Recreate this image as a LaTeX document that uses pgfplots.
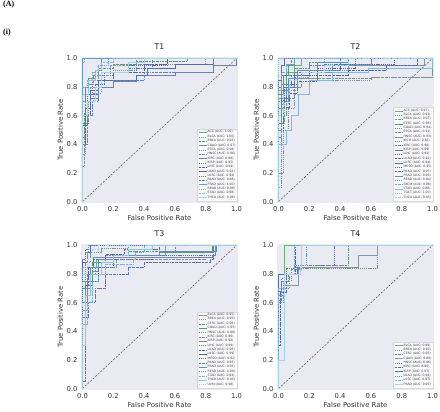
\documentclass[border=0pt]{standalone}
\usepackage{fontspec}
\setmainfont{DejaVu Sans}
\newfontfamily\serifb{Liberation Serif}
\usepackage{pgfplots}
\pgfplotsset{compat=1.18}
\definecolor{sbbg}{HTML}{EAEAF2}
\tikzset{
  s1/.style={solid},
  s2/.style={dash pattern=on 1.2bp off 0.9bp},
  s3/.style={dash pattern=on 2.2bp off 0.8bp on 0.5bp off 0.8bp},
}
\pgfplotsset{
  colormap={roc}{rgb255=(105,178,120) rgb255=(90,150,110) rgb255=(135,148,172) rgb255=(88,95,158) rgb255=(80,118,182) rgb255=(110,165,212) rgb255=(165,212,235)},
  rocax/.style={
    scale only axis, width=157bp, height=146bp,
    xmin=-0.01, xmax=1.01, ymin=-0.01, ymax=1.01,
    axis background/.style={fill=sbbg},
    axis line style={draw=none},
    major tick length=0pt,
    xtick={0,0.2,0.4,0.6,0.8,1}, ytick={0,0.2,0.4,0.6,0.8,1},
    xticklabels={0.0,0.2,0.4,0.6,0.8,1.0}, yticklabels={0.0,0.2,0.4,0.6,0.8,1.0},
    /pgf/number format/assume math mode=true,
    tick label style={font=\fontsize{6.8}{7}\selectfont, text=black!80},
    label style={font=\fontsize{6.9}{7}\selectfont, text=black!80},
    title style={font=\fontsize{7.8}{8}\selectfont, text=black!85, yshift=-2bp},
    xlabel={False Positive Rate}, ylabel={True Positive Rate},
    xlabel style={yshift=3bp}, ylabel style={yshift=-3bp},
    every axis plot/.append style={line width=0.55bp},
    legend style={at={(0.995,0.012)}, anchor=south east,
      font=\fontsize{3.1}{3.5}\selectfont, draw=black!15, fill=white, fill opacity=0.8, text opacity=1,
      inner sep=0.8bp, row sep=-0.9bp, nodes={inner sep=0.7bp, text=black!75}},
    legend cell align=left,
    legend image code/.code={\draw[#1] (0bp,0bp) -- (8bp,0bp);},
  },
}
\newcommand{\roc}[4]{\addplot[const plot, color of colormap={#1}, #2] coordinates {#3}; \addlegendentry{#4}}
\newcommand{\diag}{\addplot[black!65, line width=0.55bp, dash pattern=on 2bp off 1.5bp, forget plot] coordinates {(0,0) (1,1)};}
\begin{document}
\begin{tikzpicture}
\path[use as bounding box] (0,0) rectangle (440bp,412bp);
\node[anchor=north west, inner sep=0pt, font=\serifb\bfseries\fontsize{8}{9}\selectfont] at (3bp,411bp) {(A)};
\node[anchor=north west, inner sep=0pt, font=\serifb\bfseries\fontsize{8}{9}\selectfont] at (3bp,383bp) {(i)};
% ---------------- T1
\begin{axis}[rocax, at={(81bp,209bp)}, anchor=south west, title={T1}]
\diag
\roc{0}{s1}{(0,0)(0,1)(1,1)}{ACC (AUC: 1.00)}
\roc{67}{s2}{(0,0)(0,0.97)(0.01,1)(1,1)}{BLCA (AUC: 1.00)}
\roc{133}{s3}{(0,0)(0,0.45)(0.01,0.62)(0.02,0.75)(0.04,0.82)(0.07,0.88)(0.1,0.93)(0.2,0.96)(0.35,0.98)(0.68,1)(1,1)}{BRCA (AUC: 0.96)}
\roc{200}{s1}{(0,0)(0,0.7)(0.02,0.8)(0.04,0.86)(0.08,0.92)(0.12,1)(1,1)}{COAD (AUC: 0.97)}
\roc{267}{s2}{(0,0)(0,0.33)(0.02,0.55)(0.04,0.7)(0.07,0.76)(0.12,0.88)(0.2,0.92)(0.35,0.96)(0.8,1)(1,1)}{ESCA (AUC: 0.94)}
\roc{333}{s3}{(0,0)(0,0.25)(0.01,0.5)(0.03,0.7)(0.05,0.8)(0.1,0.88)(0.18,0.95)(0.35,1)(1,1)}{HNSC (AUC: 0.96)}
\roc{400}{s1}{(0,0)(0,0.55)(0.02,0.65)(0.05,0.72)(0.1,0.8)(0.2,0.84)(0.35,0.88)(0.6,0.9)(0.85,0.95)(1,0.95)(1,1)}{KIRC (AUC: 0.88)}
\roc{467}{s2}{(0,0)(0,0.6)(0.03,0.75)(0.06,0.85)(0.12,0.9)(0.3,0.95)(0.55,1)(1,1)}{KIRP (AUC: 0.95)}
\roc{533}{s3}{(0,0)(0,0.4)(0.02,0.6)(0.05,0.75)(0.1,0.85)(0.2,0.9)(0.4,0.96)(0.55,1)(1,1)}{LIHC (AUC: 0.94)}
\roc{600}{s1}{(0,0)(0,0.53)(0.03,0.65)(0.05,0.78)(0.1,0.85)(0.35,0.88)(0.42,0.93)(0.6,0.96)(0.85,1)(1,1)}{LUAD (AUC: 0.92)}
\roc{667}{s2}{(0,0)(0,0.45)(0.02,0.65)(0.05,0.75)(0.08,0.82)(0.14,0.9)(0.3,0.93)(0.45,1)(1,1)}{LUSC (AUC: 0.94)}
\roc{733}{s3}{(0,0)(0,0.4)(0.03,0.6)(0.06,0.7)(0.1,0.8)(0.2,0.85)(0.4,0.9)(0.85,1)(1,1)}{PAAD (AUC: 0.88)}
\roc{800}{s1}{(0,0)(0,1)(1,1)}{PRAD (AUC: 1.00)}
\roc{867}{s2}{(0,0)(0,0.8)(0.03,0.85)(0.06,0.9)(0.1,0.95)(0.17,1)(1,1)}{READ (AUC: 0.98)}
\roc{933}{s3}{(0,0)(0,0.75)(0.04,0.85)(0.08,0.92)(0.12,0.97)(0.2,1)(1,1)}{STAD (AUC: 0.98)}
\roc{1000}{s1}{(0,0)(0,0.6)(0.03,0.7)(0.08,0.8)(0.12,0.9)(0.3,0.97)(0.4,1)(1,1)}{THCA (AUC: 0.96)}
\end{axis}
% ---------------- T2
\begin{axis}[rocax, at={(277bp,209bp)}, anchor=south west, title={T2}]
\diag
\roc{0}{s1}{(0,0)(0,0.72)(0.02,0.82)(0.05,0.9)(0.1,0.95)(0.15,1)(1,1)}{ACC (AUC: 0.97)}
\roc{50}{s2}{(0,0)(0,0.1)(0.02,0.55)(0.04,0.7)(0.07,0.8)(0.12,0.88)(0.2,0.92)(0.4,0.95)(0.6,1)(1,1)}{BLCA (AUC: 0.93)}
\roc{100}{s3}{(0,0)(0,0.65)(0.02,0.78)(0.05,0.88)(0.1,0.93)(0.2,0.97)(0.3,1)(1,1)}{BRCA (AUC: 0.97)}
\roc{150}{s1}{(0,0)(0,0.75)(0.03,0.88)(0.06,0.95)(0.1,1)(1,1)}{CESC (AUC: 0.98)}
\roc{200}{s2}{(0,0)(0,0.5)(0.02,0.7)(0.05,0.8)(0.1,0.87)(0.2,0.9)(0.35,0.95)(0.6,1)(1,1)}{COAD (AUC: 0.94)}
\roc{250}{s3}{(0,0)(0,0.45)(0.02,0.6)(0.05,0.72)(0.1,0.8)(0.15,0.86)(0.6,0.87)(1,0.87)(1,1)}{ESCA (AUC: 0.91)}
\roc{300}{s1}{(0,0)(0,0.55)(0.03,0.7)(0.06,0.8)(0.12,0.86)(0.25,0.9)(0.45,0.95)(0.95,1)(1,1)}{HNSC (AUC: 0.93)}
\roc{350}{s2}{(0,0)(0,0.2)(0.03,0.5)(0.06,0.65)(0.1,0.75)(0.2,0.85)(0.6,0.87)(1,0.87)(1,1)}{KICH (AUC: 0.85)}
\roc{400}{s3}{(0,0)(0,0.8)(0.02,0.88)(0.05,0.95)(0.08,1)(1,1)}{KIRC (AUC: 0.98)}
\roc{450}{s1}{(0,0)(0,0.85)(0.02,0.95)(0.04,1)(1,1)}{KIRP (AUC: 0.99)}
\roc{500}{s2}{(0,0)(0,0.6)(0.03,0.72)(0.06,0.82)(0.12,0.88)(0.25,0.93)(0.5,0.96)(0.75,1)(1,1)}{LIHC (AUC: 0.94)}
\roc{550}{s3}{(0,0)(0,0.5)(0.03,0.66)(0.07,0.76)(0.12,0.84)(0.25,0.88)(0.45,0.92)(0.7,0.95)(0.9,1)(1,1)}{LUAD (AUC: 0.92)}
\roc{600}{s1}{(0,0)(0,0.6)(0.02,0.72)(0.05,0.8)(0.1,0.88)(0.2,0.92)(0.4,0.96)(0.6,1)(1,1)}{LUSC (AUC: 0.94)}
\roc{650}{s2}{(0,0)(0,0.7)(0.04,0.8)(0.08,0.88)(0.15,0.92)(0.3,0.96)(0.5,1)(1,1)}{MESO (AUC: 0.95)}
\roc{700}{s3}{(0,0)(0,0.55)(0.02,0.7)(0.05,0.82)(0.1,0.9)(0.2,0.95)(0.4,1)(1,1)}{PAAD (AUC: 0.95)}
\roc{750}{s1}{(0,0)(0,0.65)(0.03,0.78)(0.06,0.86)(0.12,0.92)(0.25,0.97)(0.45,1)(1,1)}{PRAD (AUC: 0.96)}
\roc{800}{s2}{(0,0)(0,0.5)(0.02,0.68)(0.06,0.78)(0.12,0.87)(0.2,0.92)(0.45,0.96)(0.6,1)(1,1)}{READ (AUC: 0.94)}
\roc{850}{s3}{(0,0)(0,0.78)(0.02,0.9)(0.05,0.96)(0.1,1)(1,1)}{SKCM (AUC: 0.98)}
\roc{900}{s1}{(0,0)(0,0.4)(0.05,0.5)(0.08,0.6)(0.13,0.75)(0.2,0.85)(0.35,0.9)(0.58,0.93)(1,1)}{STAD (AUC: 0.88)}
\roc{950}{s2}{(0,0)(0,1)(1,1)}{TGCT (AUC: 1.00)}
\roc{1000}{s3}{(0,0)(0,0.6)(0.03,0.75)(0.07,0.85)(0.15,0.9)(0.3,0.95)(0.45,1)(1,1)}{THCA (AUC: 0.95)}
\end{axis}
% ---------------- T3
\begin{axis}[rocax, at={(81bp,22bp)}, anchor=south west, title={T3}]
\diag
\roc{0}{s1}{(0,0)(0,0.6)(0.02,0.75)(0.05,0.85)(0.09,0.9)(0.2,0.93)(0.54,1)(1,1)}{BLCA (AUC: 0.95)}
\roc{63}{s2}{(0,0)(0,0.85)(0.02,0.95)(0.05,1)(1,1)}{BRCA (AUC: 0.99)}
\roc{125}{s3}{(0,0)(0,0.7)(0.03,0.8)(0.06,0.88)(0.15,0.93)(0.3,0.96)(0.6,1)(1,1)}{CESC (AUC: 0.96)}
\roc{188}{s1}{(0,0)(0,0.6)(0.02,0.72)(0.06,0.82)(0.1,0.88)(0.2,0.93)(0.5,0.95)(0.84,1)(1,1)}{COAD (AUC: 0.95)}
\roc{250}{s2}{(0,0)(0,0.75)(0.02,0.88)(0.05,0.95)(0.12,0.98)(0.3,1)(1,1)}{HNSC (AUC: 0.98)}
\roc{313}{s3}{(0,0)(0,0.55)(0.03,0.7)(0.05,0.8)(0.08,0.85)(0.22,0.9)(0.8,0.92)(0.85,1)(1,1)}{KIRC (AUC: 0.90)}
\roc{375}{s1}{(0,0)(0,0.6)(0.03,0.75)(0.05,0.85)(0.07,0.92)(0.84,0.93)(0.86,1)(1,1)}{KIRP (AUC: 0.92)}
\roc{438}{s2}{(0,0)(0,0.9)(0.02,0.97)(0.04,1)(1,1)}{LIHC (AUC: 0.99)}
\roc{500}{s3}{(0,0)(0,0.5)(0.02,0.72)(0.04,0.85)(0.07,0.9)(0.15,0.94)(0.27,0.97)(0.5,1)(1,1)}{LUAD (AUC: 0.96)}
\roc{563}{s1}{(0,0)(0,0.88)(0.03,0.95)(0.05,1)(1,1)}{LUSC (AUC: 0.99)}
\roc{625}{s2}{(0,0)(0,0.45)(0.02,0.65)(0.05,0.75)(0.1,0.85)(0.2,0.9)(0.45,0.93)(0.85,1)(1,1)}{MESO (AUC: 0.92)}
\roc{688}{s3}{(0,0)(0,0.05)(0.02,0.5)(0.04,0.6)(0.08,0.7)(0.15,0.8)(0.3,0.85)(0.4,0.88)(0.83,0.9)(0.85,1)(1,1)}{PAAD (AUC: 0.86)}
\roc{750}{s1}{(0,0)(0,0.5)(0.02,0.7)(0.05,0.85)(0.1,0.9)(0.2,0.93)(0.5,0.96)(0.87,1)(1,1)}{PRAD (AUC: 0.95)}
\roc{813}{s2}{(0,0)(0,0.85)(0.03,0.95)(0.04,1)(1,1)}{READ (AUC: 0.99)}
\roc{875}{s3}{(0,0)(0,0.45)(0.03,0.6)(0.06,0.75)(0.1,0.8)(0.15,0.87)(0.33,0.9)(0.34,0.95)(0.4,1)(1,1)}{STAD (AUC: 0.94)}
\roc{938}{s1}{(0,0)(0,0.3)(0.02,0.65)(0.05,0.8)(0.12,0.88)(0.2,0.93)(0.3,0.97)(0.45,1)(1,1)}{THCA (AUC: 0.95)}
\roc{1000}{s2}{(0,0)(0,0.8)(0.03,0.9)(0.06,0.97)(0.1,1)(1,1)}{UVM (AUC: 0.98)}
\end{axis}
% ---------------- T4
\begin{axis}[rocax, at={(277bp,22bp)}, anchor=south west, title={T4}]
\diag
\roc{0}{s1}{(0,0)(0,0.7)(0.04,1)(1,1)}{BLCA (AUC: 0.99)}
\roc{111}{s2}{(0,0)(0,0.6)(0.03,0.7)(0.07,0.8)(0.13,0.84)(0.64,1)(1,1)}{BRCA (AUC: 0.90)}
\roc{222}{s3}{(0,0)(0,0.62)(0.02,0.75)(0.06,0.8)(0.1,0.85)(0.2,0.86)(0.45,1)(1,1)}{CESC (AUC: 0.93)}
\roc{333}{s1}{(0,0)(0,0.65)(0.04,0.72)(0.13,0.85)(0.52,0.93)(0.64,1)(1,1)}{COAD (AUC: 0.88)}
\roc{444}{s2}{(0,0)(0,0.68)(0.02,0.77)(0.05,0.84)(0.1,0.86)(0.36,1)(1,1)}{HNSC (AUC: 0.96)}
\roc{556}{s3}{(0,0)(0,0.3)(0.01,0.67)(0.05,0.8)(0.11,1)(1,1)}{KIRC (AUC: 0.96)}
\roc{667}{s1}{(0,0)(0,0.8)(0.12,0.85)(0.15,1)(1,1)}{KIRP (AUC: 0.97)}
\roc{778}{s2}{(0,0)(0,0.65)(0.03,0.75)(0.08,0.83)(0.15,0.86)(0.18,1)(1,1)}{LUAD (AUC: 0.94)}
\roc{889}{s3}{(0,0)(0,0.7)(0.04,0.8)(0.1,1)(1,1)}{LUSC (AUC: 0.97)}
\roc{1000}{s1}{(0,0)(0,0.2)(0.04,0.8)(0.14,0.85)(0.15,1)(1,1)}{PRAD (AUC: 0.95)}
\end{axis}
\end{tikzpicture}
\end{document}
